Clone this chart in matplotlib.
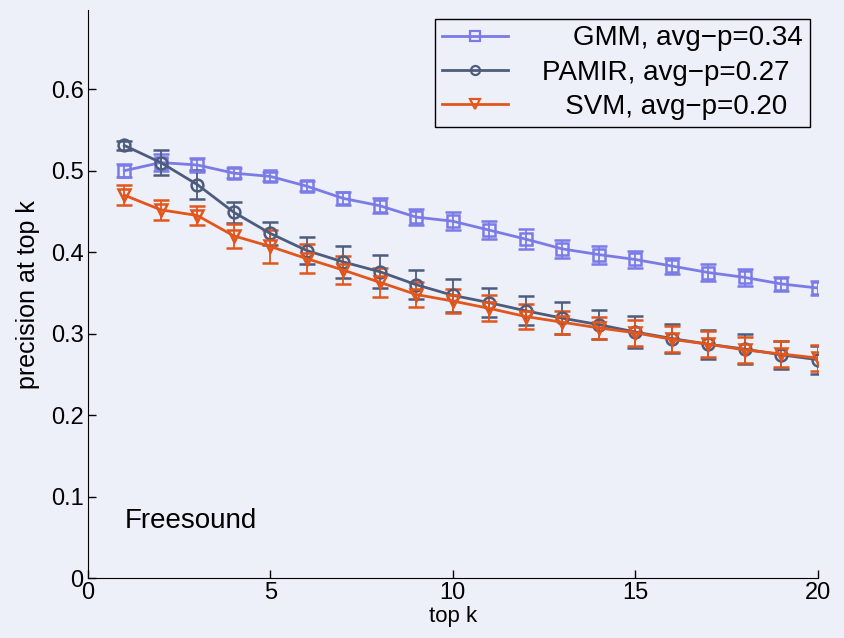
import numpy as np
import matplotlib.pyplot as plt
from matplotlib.lines import Line2D

plt.rcParams['font.family'] = ['Liberation Sans', 'DejaVu Sans']

# ── data ─────────────────────────────────────────────────────────────────────
k = np.arange(1, 21)

gmm = [0.500, 0.510, 0.507, 0.497, 0.493, 0.481, 0.466, 0.457, 0.443, 0.438,
       0.427, 0.416, 0.404, 0.397, 0.391, 0.383, 0.375, 0.369, 0.361, 0.356]
gmm_err = [0.008, 0.010, 0.009, 0.006, 0.006, 0.006, 0.008, 0.009, 0.010, 0.011,
           0.011, 0.012, 0.011, 0.011, 0.011, 0.010, 0.010, 0.010, 0.009, 0.009]

pamir = [0.531, 0.510, 0.483, 0.449, 0.423, 0.402, 0.388, 0.376, 0.360, 0.347,
         0.338, 0.328, 0.319, 0.311, 0.302, 0.294, 0.287, 0.281, 0.274, 0.268]
pamir_err = [0.006, 0.015, 0.018, 0.013, 0.014, 0.016, 0.020, 0.020, 0.018, 0.020,
             0.018, 0.018, 0.020, 0.018, 0.020, 0.018, 0.018, 0.018, 0.017, 0.017]

svm = [0.470, 0.452, 0.445, 0.420, 0.407, 0.392, 0.378, 0.363, 0.348, 0.340,
       0.331, 0.321, 0.314, 0.307, 0.301, 0.293, 0.287, 0.280, 0.275, 0.270]
svm_err = [0.012, 0.012, 0.012, 0.015, 0.020, 0.018, 0.017, 0.018, 0.015, 0.015,
           0.016, 0.015, 0.014, 0.014, 0.016, 0.016, 0.016, 0.016, 0.016, 0.016]

# leading spaces roughly centre the entries like the original legend
labels = ['    GMM, avg\u2212p=0.34', 'PAMIR, avg\u2212p=0.27', '   SVM, avg\u2212p=0.20']
colors = ['#7b7be8', '#4d5b7c', '#e2561c']
markers = ['s', 'o', 'v']

bg = '#eef0f9'

# ── plot ─────────────────────────────────────────────────────────────────────
fig = plt.figure(figsize=(8.44, 6.38), dpi=100, facecolor=bg)
ax = fig.add_axes([0.104, 0.094, 0.865, 0.890], facecolor=bg)

series = [(gmm, gmm_err), (pamir, pamir_err), (svm, svm_err)]
handles = []
for (y, e), c, m, lab in zip(series, colors, markers, labels):
    ax.errorbar(k, y, yerr=e, color=c, marker=m, markersize=8.5,
                markerfacecolor='none', markeredgewidth=1.8, linewidth=2.0,
                elinewidth=1.3, capsize=6, capthick=1.3)
    handles.append(Line2D([], [], color=c, marker=m, markersize=6.5,
                          markerfacecolor='none', markeredgewidth=1.6,
                          linewidth=2.0, label=lab))

ax.set_xlim(0, 20)
ax.set_ylim(0, 0.697)
ax.set_xticks([0, 5, 10, 15, 20])
ax.set_yticks([0, 0.1, 0.2, 0.3, 0.4, 0.5, 0.6])
ax.set_yticklabels(['0', '0.1', '0.2', '0.3', '0.4', '0.5', '0.6'])
ax.tick_params(labelsize=17, direction='in', length=6, width=1, pad=3)
ax.spines['top'].set_visible(False)
ax.spines['right'].set_visible(False)

ax.set_xlabel('top k', fontsize=16, labelpad=1)
ax.set_ylabel('precision at top k', fontsize=18, labelpad=8)

ax.text(1.0, 0.07, 'Freesound', fontsize=20, ha='left', va='center')

leg = ax.legend(handles=handles, loc='upper right', fontsize=20, frameon=True,
                fancybox=False, edgecolor='black', facecolor=bg, framealpha=1,
                handlelength=2.4, borderaxespad=0.3, labelspacing=0.3,
                handletextpad=1.2, borderpad=0.25)
leg.get_frame().set_linewidth(1.0)

fig.savefig('out.png', dpi=100, facecolor=bg)
